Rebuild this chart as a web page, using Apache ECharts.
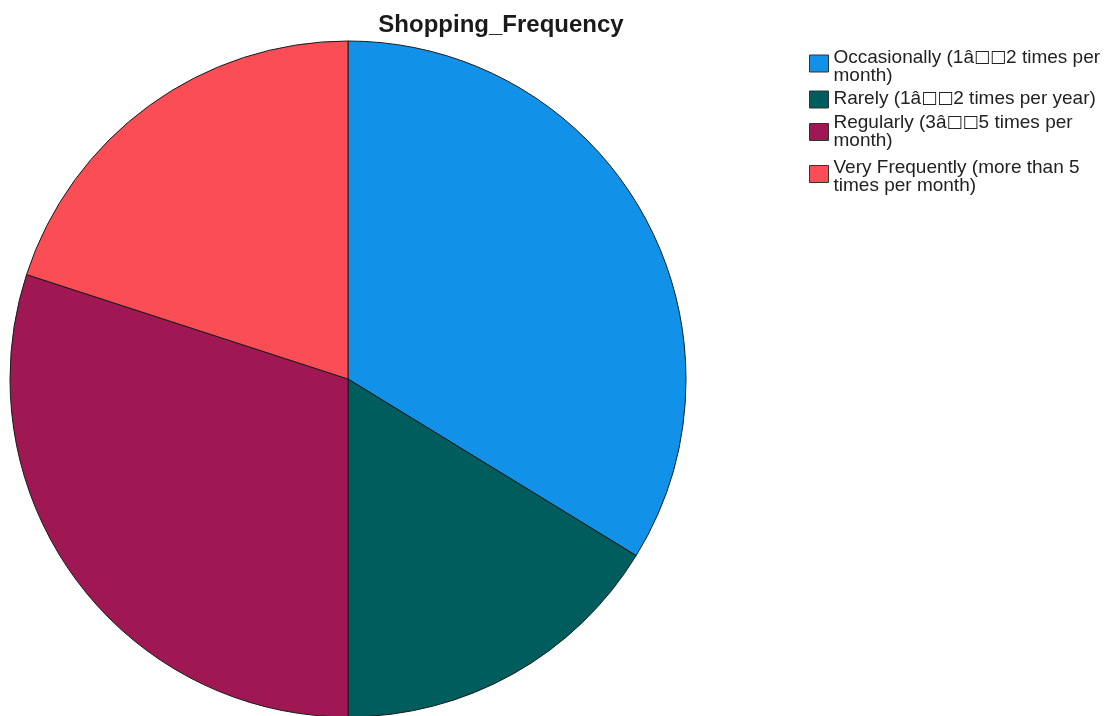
<!DOCTYPE html>
<html>
<head>
<meta charset="utf-8">
<title>Shopping_Frequency</title>
<script src="https://cdn.jsdelivr.net/npm/echarts@6/dist/echarts.min.js"></script>
<style>
  html, body { margin: 0; padding: 0; background: #ffffff; }
  #chart { width: 1109px; height: 716px; }
</style>
</head>
<body>
<div id="chart"></div>
<script>
// Response categories (labels as stored in the data file, including the broken dash encoding)
const categories = [
  'Occasionally (1\u00e2\u25a1\u25a12 times per\nmonth)',
  'Rarely (1\u00e2\u25a1\u25a12 times per year)',
  'Regularly (3\u00e2\u25a1\u25a15 times per\nmonth)',
  'Very Frequently (more than 5\ntimes per month)'
];
// Respondent counts per category
const counts = [27, 13, 24, 16];
const colors = ['#1192e8', '#005d5d', '#9f1853', '#fa4d56'];

const FONT = '"Liberation Sans", Arial, sans-serif';

// per-entry text padding [top, right, bottom, left]; shifts each swatch against its text block
const legendPadding = [[7, 0, 0, 0], [1, 0, 3, 0], [0, 0, 0, 0], [5, 0, 0, 0]];

const chart = echarts.init(document.getElementById('chart'));
chart.setOption({
  animation: false,
  title: {
    text: 'Shopping_Frequency',
    left: 496,
    textAlign: 'center',
    top: 8,
    textStyle: { fontFamily: FONT, fontSize: 24, fontWeight: 'bold', color: '#1a1a1a' }
  },
  legend: {
    orient: 'vertical',
    left: 809,
    top: 42,
    padding: 0,
    icon: 'rect',
    itemWidth: 19,
    itemHeight: 17,
    itemGap: 3,
    itemStyle: { borderColor: '#333333', borderWidth: 1 },
    // replacement glyphs drawn a little larger, like missing-glyph boxes
    formatter: name => name.replace(/\u25a1/g, '{t|\u25a1}'),
    textStyle: {
      fontFamily: FONT, fontSize: 19, lineHeight: 18, color: '#222222',
      rich: { t: { fontFamily: 'DejaVu Sans', fontSize: 17, lineHeight: 18, color: '#222222' } }
    },
    data: categories.map((name, i) => ({ name, textStyle: { padding: legendPadding[i] } }))
  },
  series: [{
    type: 'pie',
    center: [348, 379],
    radius: 338,
    startAngle: 90,
    clockwise: true,
    label: { show: false },
    labelLine: { show: false },
    emphasis: { disabled: true },
    itemStyle: { borderColor: '#1a1a1a', borderWidth: 1 },
    data: categories.map((name, i) => ({ name, value: counts[i], itemStyle: { color: colors[i] } }))
  }]
});
</script>
</body>
</html>
